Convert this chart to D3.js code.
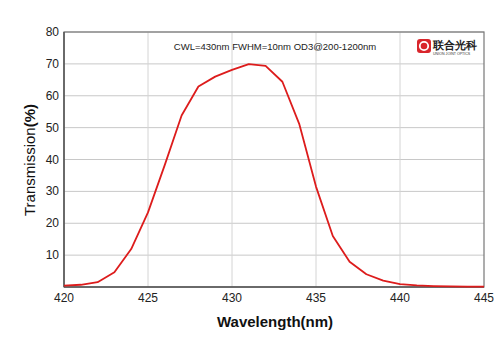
<!DOCTYPE html>
<html>
<head>
<meta charset="utf-8">
<script src="https://cdn.jsdelivr.net/npm/d3@7"></script>
<style>
body { margin: 0; background: #fff; }
text { font-family: Arial, "Liberation Sans", sans-serif; }
</style>
</head>
<body>
<div id="chart"></div>
<script>
var wavelengths = [420, 421, 422, 423, 424, 425, 426, 427, 428, 429, 430, 431, 432, 433, 434, 435, 436, 437, 438, 439, 440, 441, 442, 443, 444, 445];
var transmission = [0.4, 0.7, 1.5, 4.6, 11.9, 23.4, 38.3, 53.8, 62.9, 66.0, 68.1, 69.9, 69.4, 64.4, 51.2, 31.5, 16.0, 7.9, 4.0, 2.0, 0.9, 0.5, 0.3, 0.2, 0.1, 0.1];
var xTicks = [420, 425, 430, 435, 440, 445];
var yTicks = [10, 20, 30, 40, 50, 60, 70, 80];
var note = "CWL=430nm FWHM=10nm OD3@200-1200nm";

var data = wavelengths.map((w, i) => ({ w: w, t: transmission[i] }));

var svg = d3.select("#chart").append("svg").attr("width", 500).attr("height", 353);

var x = d3.scaleLinear().domain([420, 445]).range([64, 484]);
var y = d3.scaleLinear().domain([0, 80]).range([287, 32]);

// grid
svg.selectAll(".hgrid").data(yTicks).enter().append("line")
    .attr("x1", 64).attr("x2", 484).attr("y1", d => y(d)).attr("y2", d => y(d))
    .attr("stroke", "#c8c8c8").attr("stroke-width", 1);
svg.selectAll(".vgrid").data(xTicks.slice(1, -1)).enter().append("line")
    .attr("x1", d => x(d)).attr("x2", d => x(d)).attr("y1", 32).attr("y2", 287)
    .attr("stroke", "#d4d4d4").attr("stroke-width", 1);

// frame
svg.append("rect").attr("x", 64).attr("y", 32).attr("width", 420).attr("height", 255)
    .attr("fill", "none").attr("stroke", "#777").attr("stroke-width", 1.2);
svg.append("line").attr("x1", 64).attr("x2", 64).attr("y1", 32).attr("y2", 287).attr("stroke", "#555").attr("stroke-width", 1.5);
svg.append("line").attr("x1", 64).attr("x2", 484).attr("y1", 287).attr("y2", 287).attr("stroke", "#555").attr("stroke-width", 1.5);

// tick labels
svg.selectAll(".ylab").data(yTicks).enter().append("text")
    .attr("x", 59).attr("y", d => y(d) + 4).attr("text-anchor", "end")
    .attr("font-size", 12).attr("fill", "#222").text(d => d);
svg.selectAll(".xlab").data(xTicks).enter().append("text")
    .attr("x", d => x(d)).attr("y", 302).attr("text-anchor", "middle")
    .attr("font-size", 12).attr("fill", "#222").text(d => d);

// axis titles
svg.append("text").attr("x", 275).attr("y", 327).attr("text-anchor", "middle")
    .attr("font-size", 15).attr("font-weight", "bold").attr("fill", "#111").text("Wavelength(nm)");
var yt = svg.append("text").attr("transform", "translate(35,160) rotate(-90)").attr("text-anchor", "middle")
    .attr("font-size", 15).attr("fill", "#111");
yt.append("tspan").text("Transmission");
yt.append("tspan").attr("font-weight", "bold").text("(%)");

// annotation
svg.append("text").attr("x", 275).attr("y", 50).attr("text-anchor", "middle")
    .attr("font-size", 9.5).attr("fill", "#222").text(note);

// logo
var logo = svg.append("g").attr("transform", "translate(417,39)");
logo.append("rect").attr("width", 14).attr("height", 14).attr("rx", 3).attr("fill", "#d9262c");
logo.append("circle").attr("cx", 7).attr("cy", 7).attr("r", 4.2).attr("fill", "none").attr("stroke", "#fff").attr("stroke-width", 1.8);
logo.append("text").attr("x", 16).attr("y", 10).attr("font-size", 11).attr("font-weight", "bold")
    .attr("font-family", "Noto Sans CJK SC").attr("fill", "#222").text("联合光科");
logo.append("text").attr("x", 16).attr("y", 15.5).attr("font-size", 3.6).attr("fill", "#333").text("UNION JOINT OPTICS");

// curve
var line = d3.line().x(d => x(d.w)).y(d => y(d.t));
svg.append("path").datum(data).attr("fill", "none").attr("stroke", "#dd1c1c").attr("stroke-width", 1.8)
    .attr("stroke-linejoin", "round").attr("d", line);
</script>
</body>
</html>
